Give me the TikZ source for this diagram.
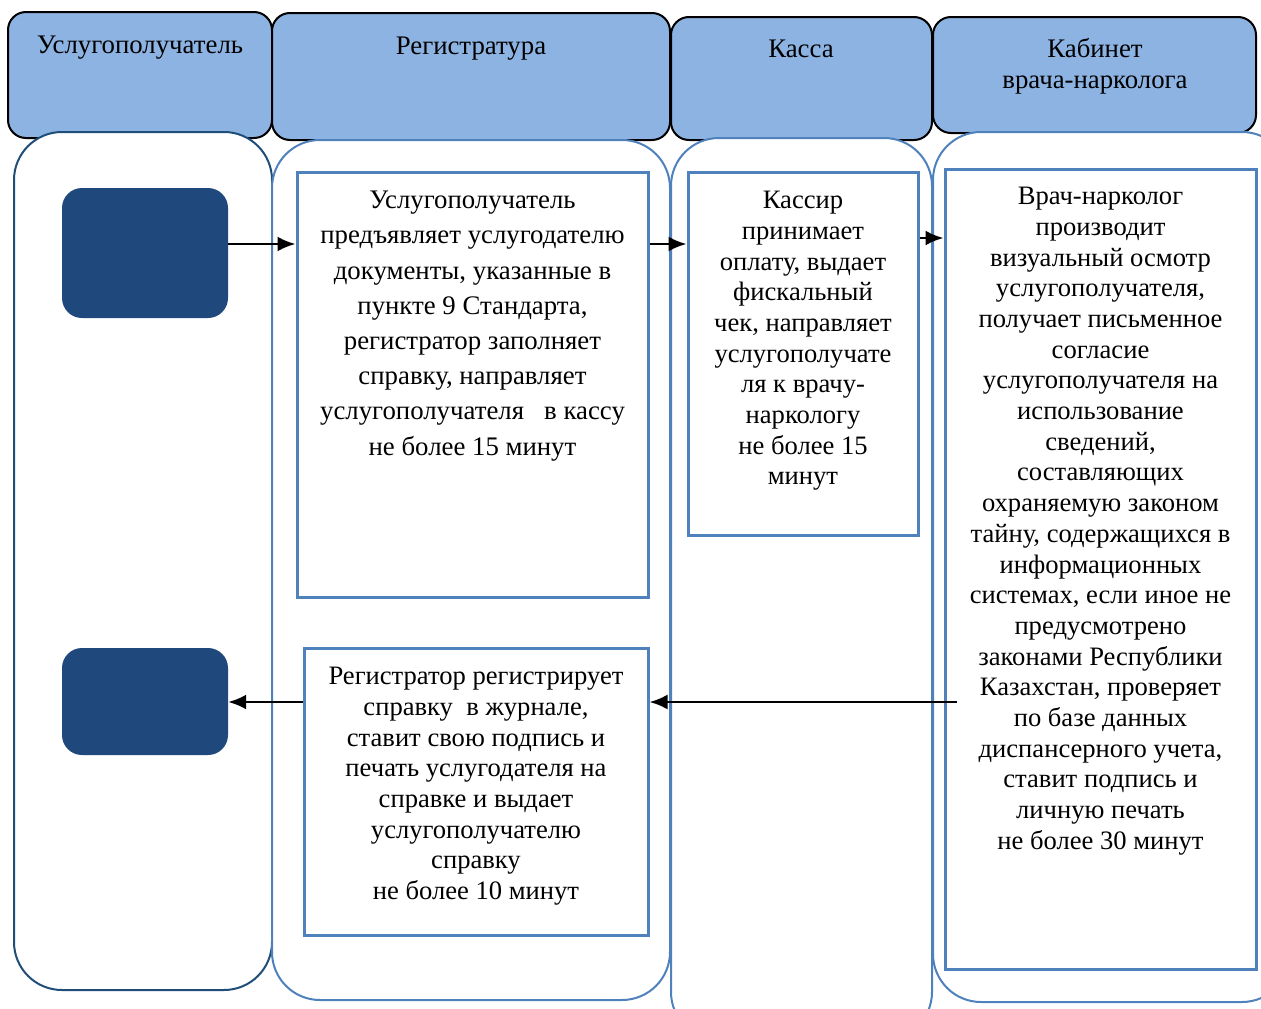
\documentclass[tikz,border=0pt]{standalone}
\usepackage{fontspec}
\setmainfont{Liberation Serif}
\usetikzlibrary{arrows.meta}
\definecolor{hdrfill}{HTML}{8DB3E2}
\definecolor{laneblue}{HTML}{4F81BD}
\definecolor{lanedark}{HTML}{1F4E79}
\definecolor{termfill}{HTML}{1F497D}
\begin{document}
\begin{tikzpicture}[x=1pt,y=-1pt,
  hdr/.style={draw=black,line width=2pt,fill=hdrfill,rounded corners=18pt},
  lane/.style={draw=laneblue,line width=2pt,fill=white,rounded corners=48pt},
  lanefirst/.style={lane,draw=lanedark},
  term/.style={draw=none,fill=termfill,rounded corners=20pt,inner sep=0pt},
  stepbox/.style={draw=laneblue,line width=3pt,fill=white,inner sep=0pt},
  hdrtext/.style={font=\fontsize{26.8}{31}\selectfont,align=center,anchor=north,inner sep=0pt},
  bodytext/.style={font=\fontsize{26.6}{30.7}\selectfont,align=center,anchor=north,inner sep=0pt},
  flow/.style={line width=2.6pt,-{Latex[length=18pt,width=15pt]}}]
\useasboundingbox (0,0) rectangle (1261,1009);
\fill[white] (0,0) rectangle (1261,1009);

% lane headers
\draw[hdr] (8,12) rectangle (272,138);
\draw[hdr] (272,13) rectangle (670,140);
\draw[hdr] (671,17) rectangle (932,140);
\draw[hdr] (933,17) rectangle (1256,133);
\node[hdrtext] (t1) at (140,36) {Услугополучатель};
\node[hdrtext] (t2) at (471,37) {Регистратура};
\node[hdrtext] (t3) at (801,40) {Касса};
\node[hdrtext] (t4) at (1095,38) {Кабинет\\врача-нарколога};

% swimlanes
\draw[lanefirst] (14,132) rectangle (272,990);
\draw[lane] (272,140) rectangle (670,1000);
\draw[lane] (671,138) rectangle (932,1040);
\draw[lane] (933,132) rectangle (1290,1002);

% start and end terminals
\node[term,minimum width=166pt,minimum height=130pt] (s) at (145,253) {};
\node[term,minimum width=166pt,minimum height=107pt] (e) at (145,701.5) {};

% process steps
\node[stepbox,minimum width=351pt,minimum height=425pt] (a) at (472.5,384.5) {};
\node[stepbox,minimum width=230pt,minimum height=363pt] (b) at (803,353.5) {};
\node[stepbox,minimum width=311pt,minimum height=800pt] (c) at (1100.5,569) {};
\node[stepbox,minimum width=344pt,minimum height=287pt] (d) at (476,791.5) {};

\node[bodytext,font=\fontsize{26.8}{35.2}\selectfont] (ta) at (472.5,191) {Услугополучатель\\предъявляет услугодателю\\документы, указанные в\\пункте 9 Стандарта,\\регистратор заполняет\\справку, направляет\\услугополучателя \ \ в кассу\\не более 15 минут};
\node[bodytext] (tb) at (803,191) {Кассир\\принимает\\оплату, выдает\\фискальный\\чек, направляет\\услугополучате\\ля к врачу-\\наркологу\\не более 15\\минут};
\node[bodytext] (tc) at (1100.5,187) {Врач-нарколог\\производит\\визуальный осмотр\\услугополучателя,\\получает письменное\\согласие\\услугополучателя на\\использование\\сведений,\\составляющих\\охраняемую законом\\тайну, содержащихся в\\информационных\\системах, если иное не\\предусмотрено\\законами Республики\\Казахстан, проверяет\\по базе данных\\диспансерного учета,\\ставит подпись и\\личную печать\\не более 30 минут};
\node[bodytext] (td) at (476,667) {Регистратор регистрирует\\справку \ в журнале,\\ставит свою подпись и\\печать услугодателя на\\справке и выдает\\услугополучателю\\справку\\не более 10 минут};

% connectors
\coordinate (cret) at (957,702);
\draw[flow] (s.east |- 0,244) -- (a.west |- 0,244);
\draw[flow] (a.east |- 0,244) -- (b.west |- 0,244);
\draw[flow] (b.east |- 0,238) -- (c.west |- 0,238);
\draw[flow] (cret) -- (d.east |- cret);
\draw[flow] (d.west |- cret) -- (e.east |- cret);
\end{tikzpicture}
\end{document}
